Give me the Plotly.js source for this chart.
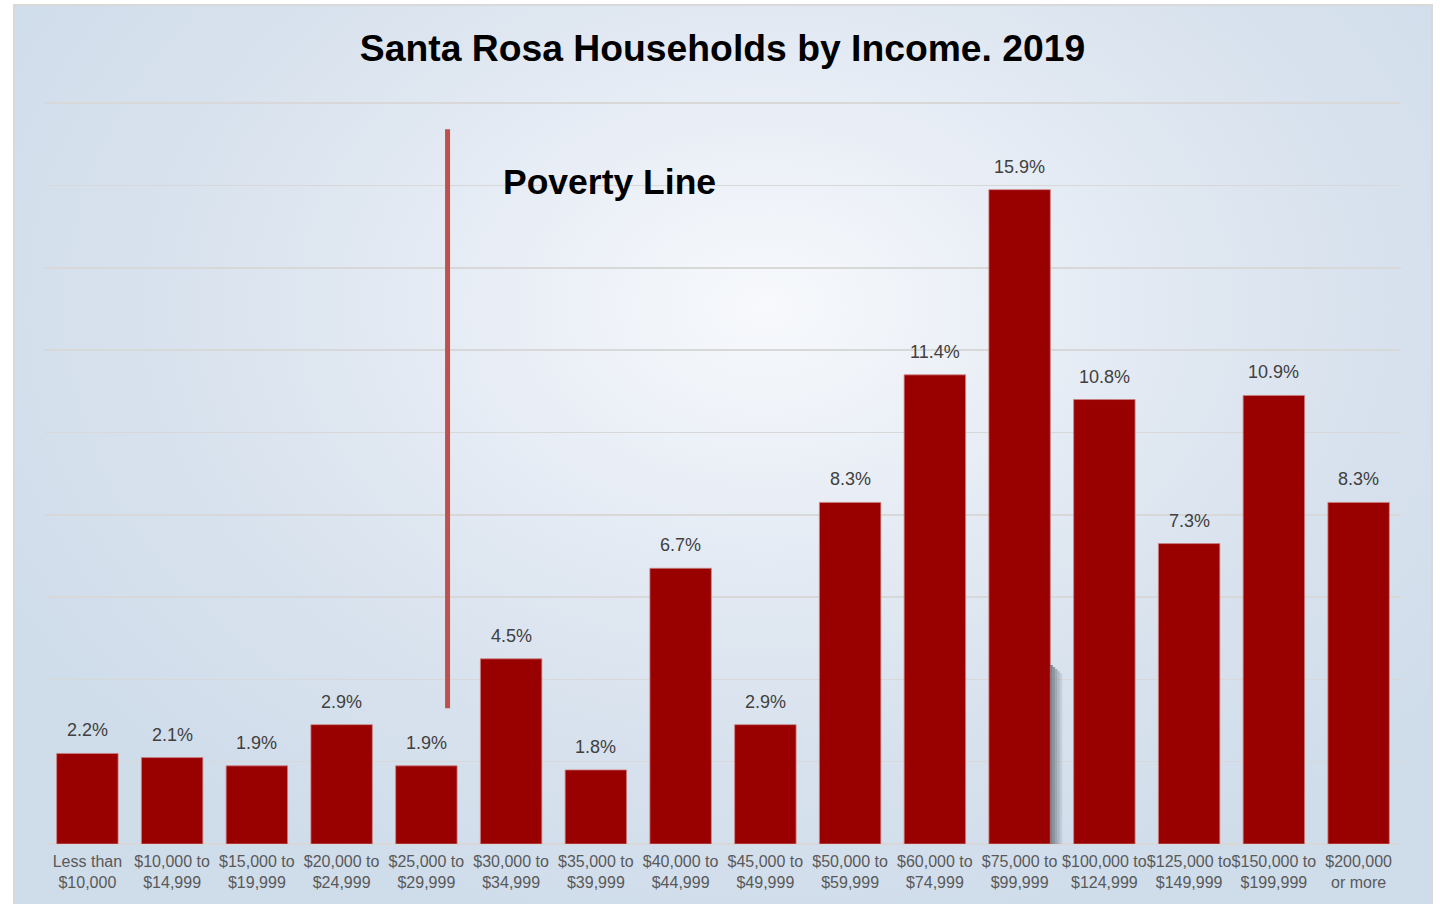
<!DOCTYPE html>
<html>
<head>
<meta charset="utf-8">
<script src="https://cdn.plot.ly/plotly-3.0.1.min.js"></script>
<style>
  html, body { margin: 0; padding: 0; background: #ffffff; width: 1440px; height: 904px; overflow: hidden; }
  #frame {
    position: absolute; left: 13px; top: 4px; width: 1416px; height: 910px;
    border: 2px solid #d9d9d9;
    background: radial-gradient(ellipse 62% 70% at 53% 33%, #f7f9fc 0%, #e9eef6 30%, #dbe4ef 60%, #cfdcea 100%);
  }
  #chart { position: absolute; left: 0; top: 0; width: 1440px; height: 904px; }
</style>
</head>
<body>
<div id="frame"></div>
<div id="chart"></div>
<script>
const categories = [
  "Less than<br>$10,000", "$10,000 to<br>$14,999", "$15,000 to<br>$19,999", "$20,000 to<br>$24,999",
  "$25,000 to<br>$29,999", "$30,000 to<br>$34,999", "$35,000 to<br>$39,999", "$40,000 to<br>$44,999",
  "$45,000 to<br>$49,999", "$50,000 to<br>$59,999", "$60,000 to<br>$74,999", "$75,000 to<br>$99,999",
  "$100,000 to<br>$124,999", "$125,000 to<br>$149,999", "$150,000 to<br>$199,999", "$200,000<br>or more"
];
const values = [2.2, 2.1, 1.9, 2.9, 1.9, 4.5, 1.8, 6.7, 2.9, 8.3, 11.4, 15.9, 10.8, 7.3, 10.9, 8.3];
const valueLabels = values.map(v => v.toFixed(1) + "%");
const titleText = "Santa Rosa Households by Income. 2019";
const povertyLabel = "Poverty Line";
const povertyX = 4.25;          // between "$25,000 to $29,999" and "$30,000 to $34,999"
const povertyY = [3.3, 17.37];

const barGap = 0.275;
const shadowBar = 11;           // the "$75,000 to $99,999" bar carries a soft drop shadow

const trace = {
  type: "bar",
  x: categories,
  y: values,
  marker: { color: "#990000", line: { color: "rgba(205,130,130,0.8)", width: 1 } },
  hoverinfo: "x+y"
};

const valueAnnotations = categories.map((c, i) => ({
  x: c, y: values[i], xref: "x", yref: "y",
  text: valueLabels[i], showarrow: false,
  yanchor: "bottom", yshift: 11,
  font: { family: "Liberation Sans, Arial, sans-serif", size: 18, color: "#404040" }
}));

// decorative shadow strips to the right of one bar
const shadowStart = shadowBar + (1 - barGap) / 2;
const shadowOpac = [0.75, 0.6, 0.45, 0.3, 0.15];
const shadowShapes = shadowOpac.map((o, k) => ({
  type: "rect", xref: "x", yref: "y", layer: "above",
  x0: shadowStart + k * 0.028, x1: shadowStart + (k + 1) * 0.028,
  y0: -0.05, y1: 4.35 - k * 0.05,
  fillcolor: "rgba(90,100,112," + o + ")", line: { width: 0 }
}));

const layout = {
  width: 1440, height: 904,
  paper_bgcolor: "rgba(0,0,0,0)",
  plot_bgcolor: "rgba(0,0,0,0)",
  margin: { l: 45, r: 39, t: 102, b: 60, pad: 0 },
  bargap: barGap,
  showlegend: false,
  title: {
    text: "<b>" + titleText + "</b>",
    x: 0.4997, xanchor: "center", xref: "paper",
    y: 1 - 48 / 904, yanchor: "middle", yref: "container",
    font: { family: "Liberation Sans, Arial, sans-serif", size: 37.3, color: "#000000" }
  },
  xaxis: {
    type: "category",
    showgrid: false, zeroline: false, showline: false,
    ticks: "", ticklen: 0, tickangle: 0, automargin: false,
    ticklabelstandoff: 6,
    tickfont: { family: "Liberation Sans, Arial, sans-serif", size: 16, color: "#595959" },
    fixedrange: true
  },
  yaxis: {
    range: [0, 18.03], dtick: 2, tick0: 0,
    showticklabels: false,
    showgrid: true, gridcolor: "#d8d8d8", gridwidth: 1.5,
    zeroline: true, zerolinecolor: "#d8d8d8", zerolinewidth: 1.5,
    showline: false, ticks: "",
    fixedrange: true
  },
  shapes: shadowShapes.concat([{
    type: "line", xref: "x", yref: "y",
    x0: povertyX, x1: povertyX, y0: povertyY[0], y1: povertyY[1],
    line: { color: "#c0504d", width: 5 }
  }]),
  annotations: valueAnnotations.concat([{
    x: 6.16, y: 16.08, xref: "x", yref: "y",
    text: "<b>" + povertyLabel + "</b>", showarrow: false,
    xanchor: "center", yanchor: "middle",
    font: { family: "Liberation Sans, Arial, sans-serif", size: 35.5, color: "#000000" }
  }])
};

Plotly.newPlot("chart", [trace], layout, { displayModeBar: false, staticPlot: true });
</script>
</body>
</html>
